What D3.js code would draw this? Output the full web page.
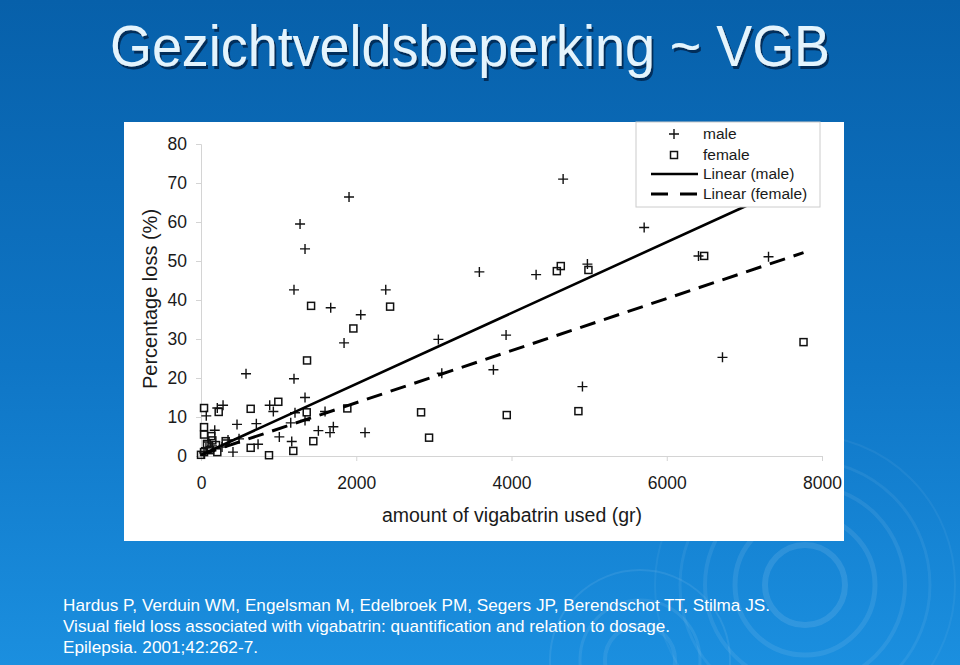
<html>
<script src='https://cdn.jsdelivr.net/npm/d3@7'></script>
<style>
  body { margin: 0; }
  text { font-family: 'Liberation Sans', Arial, sans-serif; }
</style>
<body onload='init()'>
<svg width=960 height=665></svg>

<script>
// male points: amount of vigabatrin (gr) and percentage loss
var maleX = [1907, 4665, 1276, 1340, 1198, 1671, 2380, 2058, 1843, 580, 1198, 1340,
             3058, 3102, 3586, 3930, 3767, 4317, 4978, 4914, 5709, 6409, 6718, 7311,
             2113, 1705, 1662, 1598, 1512, 1340, 1211, 1156, 1169, 1009, 932, 885,
             713, 464, 490, 735, 412, 284, 210, 68, 177, 64, 142, 39, 90, 271, 348];
var maleY = [66.4, 71.0, 59.5, 53.1, 42.6, 38.0, 42.6, 36.2, 29.0, 21.1, 19.8, 15.0,
             29.9, 21.2, 47.2, 31.0, 22.1, 46.5, 49.2, 17.8, 58.6, 51.3, 25.3, 51.1,
             6.0, 7.5, 6.0, 11.4, 6.5, 9.1, 11.1, 8.5, 3.7, 4.9, 11.4, 13.0,
             8.3, 8.1, 4.4, 3.0, 1.0, 13.0, 12.3, 10.3, 6.6, 2.1, 2.6, 0.8, 3.6, 2.3, 4.1];

// female points
var femaleX = [1418, 2436, 1963, 1366, 4584, 4635, 4991, 6482, 7762, 2835, 3939, 4862,
               2938, 1885, 1362, 996, 1447, 1189, 876, 640, 640, 228, 39, 39, 39,
               133, 146, 318, 210, 0, 39, 116, 193, 77];
var femaleY = [38.5, 38.3, 32.7, 24.5, 47.4, 48.7, 47.7, 51.3, 29.2, 11.2, 10.5, 11.5,
               4.7, 12.2, 11.2, 13.9, 3.8, 1.3, 0.2, 12.1, 2.1, 11.3, 12.3, 7.4, 5.5,
               5.1, 4.0, 3.8, 1.0, 0.3, 1.0, 1.5, 2.8, 3.1];

// linear trendlines: [slope, intercept]
var maleTrend = [0.00909, 0.3];
var femaleTrend = [0.00668, 0.3];

var xTicks = [0, 2000, 4000, 6000, 8000];
var yTicks = [0, 10, 20, 30, 40, 50, 60, 70, 80];

var titleText = 'Gezichtveldsbeperking ~ VGB';
var xTitle = 'amount of vigabatrin used (gr)';
var yTitle = 'Percentage loss (%)';
var legendLabels = ['male', 'female', 'Linear (male)', 'Linear (female)'];
var refLines = ['Hardus P, Verduin WM, Engelsman M, Edelbroek PM, Segers JP, Berendschot TT, Stilma JS.',
                'Visual field loss associated with vigabatrin: quantification and relation to dosage.',
                'Epilepsia. 2001;42:262-7.'];

function init() {
    var svg = d3.select('svg');

    // slide background
    var defs = svg.append('defs');
    var grad = defs.append('linearGradient').attr('id', 'bg')
        .attr('x1', 0).attr('y1', 0).attr('x2', 0).attr('y2', 1);
    grad.append('stop').attr('offset', '0%').attr('stop-color', '#0760aa');
    grad.append('stop').attr('offset', '55%').attr('stop-color', '#0f76c6');
    grad.append('stop').attr('offset', '100%').attr('stop-color', '#1b8fdf');
    svg.append('rect').attr('width', 960).attr('height', 665).attr('fill', 'url(#bg)');

    var shadow = defs.append('filter').attr('id', 'shadow')
        .attr('x', '-5%').attr('y', '-20%').attr('width', '110%').attr('height', '140%');
    shadow.append('feDropShadow').attr('dx', 2).attr('dy', 3).attr('stdDeviation', 0.6)
        .attr('flood-color', '#06284d').attr('flood-opacity', 0.85);

    // faint rings in the bottom right
    var rings = svg.append('g').attr('fill', 'none').attr('stroke', '#ffffff');
    [40, 70, 100, 125, 150].forEach(function(r, i) {
        rings.append('circle').attr('cx', 805).attr('cy', 585).attr('r', r)
            .attr('stroke-opacity', 0.10 - i * 0.012).attr('stroke-width', 6 - i);
    });
    [35, 60, 90].forEach(function(r, i) {
        rings.append('circle').attr('cx', 640).attr('cy', 660).attr('r', r)
            .attr('stroke-opacity', 0.08).attr('stroke-width', 4 - i);
    });

    // title with shadow
    svg.append('text').attr('x', 470).attr('y', 66).attr('text-anchor', 'middle')
        .attr('font-size', 58).attr('fill', '#e4f4fd').attr('filter', 'url(#shadow)')
        .attr('textLength', 720).attr('lengthAdjust', 'spacingAndGlyphs')
        .text(titleText);

    // chart box
    svg.append('rect').attr('x', 124).attr('y', 122).attr('width', 720).attr('height', 419)
        .attr('fill', 'white');

    var xScale = d3.scaleLinear().domain([0, 8000]).range([201, 822]);
    var yScale = d3.scaleLinear().domain([0, 80]).range([456, 144]);

    // axes
    var gx = svg.append('g').attr('transform', 'translate(0,456)')
        .call(d3.axisBottom(xScale).tickValues(xTicks).tickSize(5).tickPadding(16).tickFormat(d3.format('d')));
    var gy = svg.append('g').attr('transform', 'translate(201,0)')
        .call(d3.axisLeft(yScale).tickValues(yTicks).tickSize(5).tickPadding(9));
    [gx, gy].forEach(function(g) {
        g.select('.domain').attr('stroke', '#d4d4d4');
        g.selectAll('.tick line').attr('stroke', '#d4d4d4');
        g.selectAll('.tick text').attr('font-size', 17.5).attr('fill', '#1a1a1a')
            .attr('font-family', "'Liberation Sans', Arial, sans-serif");
    });

    svg.append('text').attr('x', 512).attr('y', 522).attr('text-anchor', 'middle')
        .attr('font-size', 19.5).attr('fill', '#1a1a1a').text(xTitle);
    svg.append('text').attr('transform', 'translate(157,299) rotate(-90)')
        .attr('text-anchor', 'middle').attr('font-size', 20).attr('fill', '#1a1a1a').text(yTitle);

    var plus = function(g, x, y) {
        g.append('path').attr('d', 'M' + (x - 5) + ',' + y + 'h10M' + x + ',' + (y - 5) + 'v10')
            .attr('stroke', '#111').attr('stroke-width', 1.4).attr('fill', 'none');
    };
    var square = function(g, x, y) {
        g.append('rect').attr('x', x - 3.5).attr('y', y - 3.5).attr('width', 7).attr('height', 7)
            .attr('stroke', '#111').attr('stroke-width', 1.5).attr('fill', 'none');
    };

    var pts = svg.append('g');
    femaleX.forEach(function(d, i) { square(pts, xScale(d), yScale(femaleY[i])); });
    maleX.forEach(function(d, i) { plus(pts, xScale(d), yScale(maleY[i])); });

    // trendlines over the range of each series
    var trend = function(xs, coef) {
        var x0 = d3.min(xs), x1 = d3.max(xs);
        return [[x0, coef[1] + coef[0] * x0], [x1, coef[1] + coef[0] * x1]];
    };
    var line = d3.line().x(function(d) { return xScale(d[0]); }).y(function(d) { return yScale(d[1]); });
    svg.append('path').datum(trend(maleX, maleTrend)).attr('d', line)
        .attr('stroke', '#000').attr('stroke-width', 2.6).attr('fill', 'none');
    svg.append('path').datum(trend(femaleX, femaleTrend)).attr('d', line)
        .attr('stroke', '#000').attr('stroke-width', 3).attr('fill', 'none')
        .attr('stroke-dasharray', '16,9');

    // legend
    var lg = svg.append('g');
    lg.append('rect').attr('x', 636).attr('y', 122).attr('width', 184).attr('height', 85)
        .attr('fill', 'white').attr('stroke', '#cccccc');
    var rowY = [134, 155, 174, 194];
    legendLabels.forEach(function(t, i) {
        lg.append('text').attr('x', 703).attr('y', rowY[i]).attr('dy', '0.35em')
            .attr('font-size', 15.5).attr('fill', '#1a1a1a').text(t);
    });
    plus(lg, 674, rowY[0]);
    square(lg, 674, rowY[1]);
    lg.append('line').attr('x1', 651).attr('x2', 698).attr('y1', rowY[2]).attr('y2', rowY[2])
        .attr('stroke', '#000').attr('stroke-width', 2.6);
    lg.append('line').attr('x1', 651).attr('x2', 698).attr('y1', rowY[3]).attr('y2', rowY[3])
        .attr('stroke', '#000').attr('stroke-width', 3).attr('stroke-dasharray', '17,12');

    // reference
    var widths = [707, 607, 195];
    refLines.forEach(function(t, i) {
        svg.append('text').attr('x', 63).attr('y', 611 + i * 21)
            .attr('font-size', 17).attr('fill', '#ffffff')
            .attr('textLength', widths[i]).attr('lengthAdjust', 'spacingAndGlyphs')
            .text(t);
    });
}
</script>
</body>
</html>
